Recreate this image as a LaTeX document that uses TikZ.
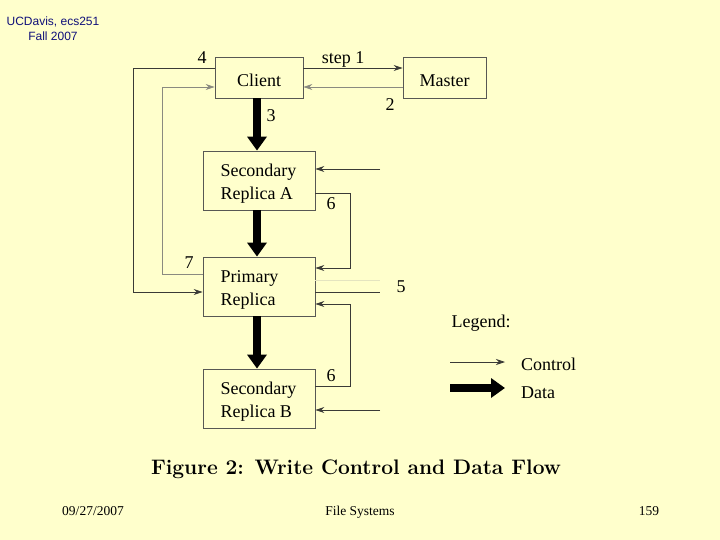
\documentclass[tikz,border=0pt]{standalone}
\usepackage{fontspec}
\newfontfamily\tnr{Liberation Serif}
\newfontfamily\hdrfont{Liberation Sans}
\usetikzlibrary{arrows.meta}
\definecolor{bg}{HTML}{FFFFCC}
\definecolor{ln}{HTML}{3A3A36}
\definecolor{lnl}{HTML}{8A8A80}
\definecolor{lnf}{HTML}{E4E4C0}
\definecolor{hdr}{HTML}{10107A}
\newcommand{\boxtxt}[1]{\raisebox{-3pt}[\height][\depth]{\parbox{77pt}{#1}}}
\newcommand{\lowtxt}[1]{\raisebox{-3pt}[\height][\depth]{#1}}
\begin{document}
\begin{tikzpicture}[x=1pt,y=-1pt,
  box/.style={draw=ln!85, line width=0.8pt, inner sep=0pt, font=\tnr\fontsize{18}{23}\selectfont, align=center},
  wbox/.style={box, minimum width=112pt, minimum height=59pt},
  lbl/.style={font=\tnr\fontsize{18}{22}\selectfont, inner sep=0pt},
  ctl/.style={draw=ln, line width=0.8pt, -{Stealth[length=9pt,width=6pt]}},
  ctll/.style={ctl, draw=lnl},
  plain/.style={draw=ln, line width=0.8pt},
  data/.style={draw=black, line width=8.5pt, -{Triangle[length=14pt,width=19pt]}},
  foot/.style={font=\tnr\fontsize{13.5}{16}\selectfont, inner sep=0pt, anchor=base}
]
\fill[bg] (0,0) rectangle (720,540);
\useasboundingbox (0,0) rectangle (720,540);

% header
\node[font=\hdrfont\fontsize{12}{15}\selectfont, text=hdr, align=center, inner sep=0pt] (hdr) at (53,29) {UCDavis, ecs251\\Fall 2007};

% boxes
\node[box, minimum width=88pt, minimum height=41pt] (client) at (259,77.5) {\lowtxt{Client}};
\node[box, minimum width=83pt, minimum height=41pt] (master) at (444.5,77.5) {\lowtxt{Master}};
\node[wbox] (secA) at (259,180.5) {\boxtxt{Secondary\\Replica A}};
\node[wbox] (prim) at (259,286.5) {\boxtxt{Primary\\Replica}};
\node[wbox] (secB) at (259,398.5) {\boxtxt{Secondary\\Replica B}};

% helper coordinates
\coordinate (x257) at (257,0);
\coordinate (y68) at (0,68);
\coordinate (y87) at (0,87);
\coordinate (y169) at (0,169);
\coordinate (y193) at (0,193);
\coordinate (y268) at (0,268);
\coordinate (y274) at (0,274);
\coordinate (y280) at (0,280);
\coordinate (y292) at (0,292);
\coordinate (y304) at (0,304);
\coordinate (y386) at (0,386);
\coordinate (y410) at (0,410);
\coordinate (c4) at (133,292);
\coordinate (c7) at (162,87);
\coordinate (c6a) at (350,268);
\coordinate (c6b) at (350,304);
\coordinate (inA) at (380,169);
\coordinate (out5) at (380,292);
\coordinate (out5f) at (380,280);
\coordinate (inB) at (380,410);

% control flow
\draw[ctl] (client.east |- y68) -- (master.west |- y68);
\draw[ctll] (master.west |- y87) -- (client.east |- y87);
\draw[ctl] (client.west |- y68) -| (c4) -- (prim.west |- y292);
\draw[ctll] (prim.west |- y274) -| (c7) -- (client.west |- y87);
\draw[ctl] (inA) -- (secA.east |- y169);
\draw[ctl] (secA.east |- y193) -| (c6a) -- (prim.east |- y268);
\draw[plain] (prim.east |- y292) -- (out5);
\draw[draw=lnf, line width=0.8pt] (prim.east |- y280) -- (out5f);
\draw[ctl] (secB.east |- y386) -| (c6b) -- (prim.east |- y304);
\draw[ctl] (inB) -- (secB.east |- y410);

% data flow
\draw[data] (client.south -| x257) -- (secA.north -| x257);
\draw[data] (secA.south -| x257) -- (prim.north -| x257);
\draw[data] (prim.south -| x257) -- (secB.north -| x257);

% labels
\node[lbl] (l1) at (343,59) {step 1};
\node[lbl] (l2) at (390,105) {2};
\node[lbl] (l3) at (271,116) {3};
\node[lbl] (l4) at (202,58) {4};
\node[lbl] (l5) at (401,287) {5};
\node[lbl] (l6a) at (331,204) {6};
\node[lbl] (l6b) at (331,376) {6};
\node[lbl] (l7) at (189,263) {7};

% legend
\node[lbl] (leg) at (481,323) {Legend:};
\coordinate (lc1) at (450,362);
\coordinate (lc2) at (505,362);
\coordinate (ld1) at (450,388);
\coordinate (ld2) at (505,388);
\draw[ctl] (lc1) -- (lc2);
\draw[data] (ld1) -- (ld2);
\node[lbl, anchor=west] (lctl) at (521,364) {Control};
\node[lbl, anchor=west] (ldat) at (521,393) {Data};

% caption
\node[font=\bfseries\fontsize{21}{25}\selectfont, inner sep=0pt] (cap) at (356,469) {Figure 2: Write Control and Data Flow};

% footer
\node[foot] (f1) at (93,515) {09/27/2007};
\node[foot] (f2) at (360,515) {File Systems};
\node[foot] (f3) at (649,515) {159};
\end{tikzpicture}
\end{document}
